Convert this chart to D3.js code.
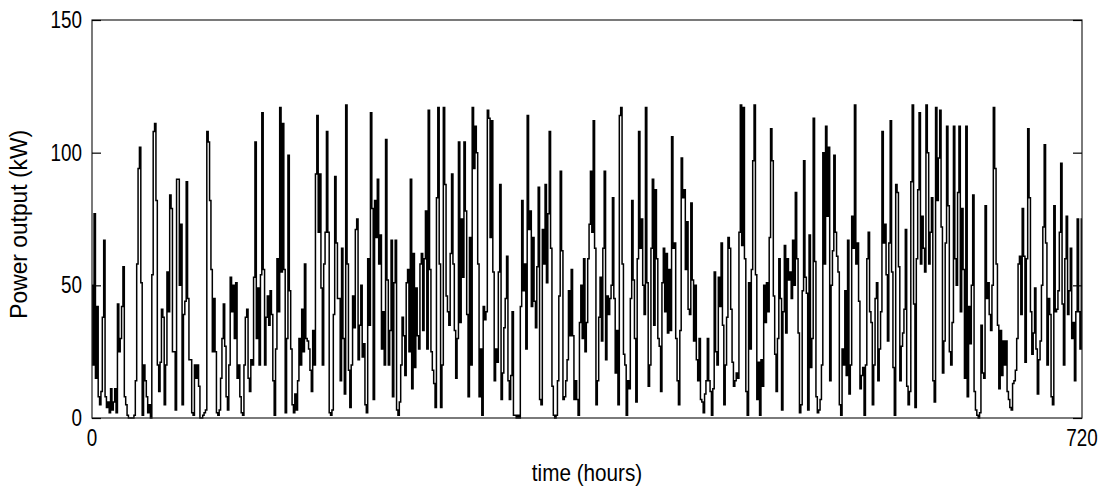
<!DOCTYPE html>
<html>
<head>
<meta charset="utf-8">
<script src="https://cdn.jsdelivr.net/npm/d3@7"></script>
<style>
  body { margin: 0; background: #fff; }
  svg text { font-family: "Liberation Sans", Arial, sans-serif; fill: #000; }
</style>
</head>
<body>
<svg id="chart"></svg>
<script>
// hourly power output (kW) in 90-hour blocks
const block1 = [50,20,77,15,42,8,5,10,38,67,8,4,6,2,11,3,6,11,2,43,25,30,42,57,8,5,1,0,0,0,
  0,1,14,58,94,102,51,1,20,14,8,2,5,0,54,108,111,82,20,10,21,41,38,5,20,55,40,84,79,25,
  25,3,90,90,50,73,5,39,44,89,45,22,22,2,1,20,15,20,12,0,0,1,2,3,108,104,82,56,25,45];
const block2 = [25,2,1,3,15,30,43,27,8,3,20,53,40,50,30,51,15,20,8,2,1,20,38,41,15,10,22,20,53,104,
  30,49,20,54,115,56,20,38,46,35,48,39,14,1,26,60,40,117,55,111,56,2,30,99,48,26,5,2,9,3,
  14,30,20,41,25,58,30,29,26,18,10,33,20,92,114,70,92,49,20,58,70,108,70,2,1,3,39,91,66,45];
const block3 = [45,14,64,30,9,118,58,18,4,20,46,34,71,75,22,35,50,23,28,5,2,60,35,115,79,7,82,68,90,58,
  69,26,40,20,105,52,20,33,67,8,51,67,3,1,6,20,38,31,16,51,56,25,90,11,62,19,49,31,26,58,
  62,33,60,78,26,116,56,25,18,13,4,83,117,58,4,20,117,88,46,40,35,62,92,58,33,15,30,104,36,75];
const block4 = [53,104,78,39,8,68,20,117,94,110,100,58,8,26,1,42,37,40,116,113,68,112,55,14,26,21,55,88,7,17,
  34,45,61,14,7,16,40,1,1,0,1,0,42,82,48,58,26,114,71,78,42,68,44,34,57,87,7,5,71,58,
  88,51,77,108,64,12,1,0,1,14,46,93,63,7,8,14,22,48,31,56,31,7,14,7,1,36,50,30,60,25];
const block5 = [36,60,73,93,70,112,64,5,14,38,53,29,64,93,22,46,39,45,50,83,45,17,33,5,114,117,58,24,20,1,
  14,11,45,82,52,30,6,60,108,64,75,50,39,117,51,12,20,64,90,35,86,60,30,27,10,51,64,40,62,32,
  56,33,106,64,66,30,14,5,33,98,83,86,56,74,41,39,81,52,29,50,22,14,30,7,6,2,9,14,30,14];
const block6 = [10,1,11,55,25,20,53,42,66,35,5,20,38,68,64,41,21,12,14,17,15,70,118,65,117,60,10,1,51,26,
  56,97,118,54,7,21,1,22,12,50,36,51,40,68,109,97,46,24,10,30,60,45,3,40,65,32,60,52,55,45,
  67,50,85,60,32,2,5,48,97,53,47,3,69,19,30,113,59,8,2,3,7,20,100,58,110,76,102,14,50,63];
const block7 = [99,70,61,55,5,1,26,20,48,16,67,9,20,76,64,118,58,66,44,11,16,19,1,20,60,70,40,36,5,20,
  45,51,14,26,40,108,66,73,54,29,66,112,55,19,1,88,85,57,14,27,32,41,71,12,5,10,89,118,43,4,
  60,86,115,58,76,64,55,118,100,58,70,83,14,6,117,82,98,116,72,17,29,66,110,80,25,20,36,110,60,50];
const block8 = [85,110,40,79,56,15,110,8,42,28,50,84,10,3,1,0,2,35,17,15,80,45,51,39,33,50,117,94,58,35,
  11,33,16,29,20,29,10,7,4,3,13,14,18,30,58,61,39,79,61,21,60,109,83,40,24,32,49,26,9,22,
  29,50,72,103,66,20,45,39,8,5,80,40,41,48,70,96,43,20,60,76,39,48,64,30,36,14,40,75,40,26,75];

const power = [].concat(block1, block2, block3, block4, block5, block6, block7, block8);
const hours = d3.range(power.length);

const yTicks = [0, 50, 100, 150];
const xTicks = [0, 720];

const width = 1111;
const height = 488;
const margin = {top: 20, right: 29, bottom: 70, left: 92};

const svg = d3.select("#chart")
              .attr("width", width)
              .attr("height", height);

const x = d3.scaleLinear()
            .domain([0, 720])
            .range([margin.left, width - margin.right]);

const y = d3.scaleLinear()
            .domain([0, 150])
            .range([height - margin.bottom, margin.top]);

// data line, drawn as steps so the spikes stand upright
const line = d3.line()
               .curve(d3.curveStep)
               .x(function(d, i) { return x(hours[i]); })
               .y(function(d) { return y(d); });

svg.append("path")
   .datum(power)
   .attr("d", line)
   .attr("fill", "none")
   .attr("stroke", "#000")
   .attr("stroke-width", 1.5);

// frame
svg.append("rect")
   .attr("x", x(0))
   .attr("y", y(150))
   .attr("width", x(720) - x(0))
   .attr("height", y(0) - y(150))
   .attr("fill", "none")
   .attr("stroke", "#222")
   .attr("stroke-width", 1.2);

// inward ticks on both sides
const leftAxis = d3.axisLeft(y).tickValues(yTicks).tickSize(-9).tickFormat("");
const rightAxis = d3.axisRight(y).tickValues(yTicks).tickSize(-9).tickFormat("");

const gl = svg.append("g").attr("transform", "translate(" + x(0) + ",0)").call(leftAxis);
const gr = svg.append("g").attr("transform", "translate(" + x(720) + ",0)").call(rightAxis);

[gl, gr].forEach(function(g) {
  g.select(".domain").remove();
  g.selectAll("line").attr("stroke", "#000").attr("stroke-width", 1.2);
});

// condensed tick labels
svg.selectAll(".ylab")
   .data(yTicks)
   .enter().append("text")
   .attr("class", "ylab")
   .attr("transform", function(d) { return "translate(82," + (y(d) + 8) + ") scale(0.82,1)"; })
   .attr("text-anchor", "end")
   .style("font-size", "23px")
   .text(function(d) { return d; });

svg.selectAll(".xlab")
   .data(xTicks)
   .enter().append("text")
   .attr("class", "xlab")
   .attr("transform", function(d) { return "translate(" + x(d) + "," + (y(0) + 28) + ") scale(0.82,1)"; })
   .attr("text-anchor", "middle")
   .style("font-size", "23px")
   .text(function(d) { return d; });

svg.append("text")
   .attr("transform", "translate(" + ((x(0) + x(720)) / 2) + ",481) scale(0.9,1)")
   .attr("text-anchor", "middle")
   .style("font-size", "23px")
   .text("time (hours)");

svg.append("text")
   .attr("transform", "translate(27," + y(73) + ") rotate(-90) scale(0.95,1)")
   .attr("text-anchor", "middle")
   .style("font-size", "24px")
   .text("Power output (kW)");
</script>
</body>
</html>
